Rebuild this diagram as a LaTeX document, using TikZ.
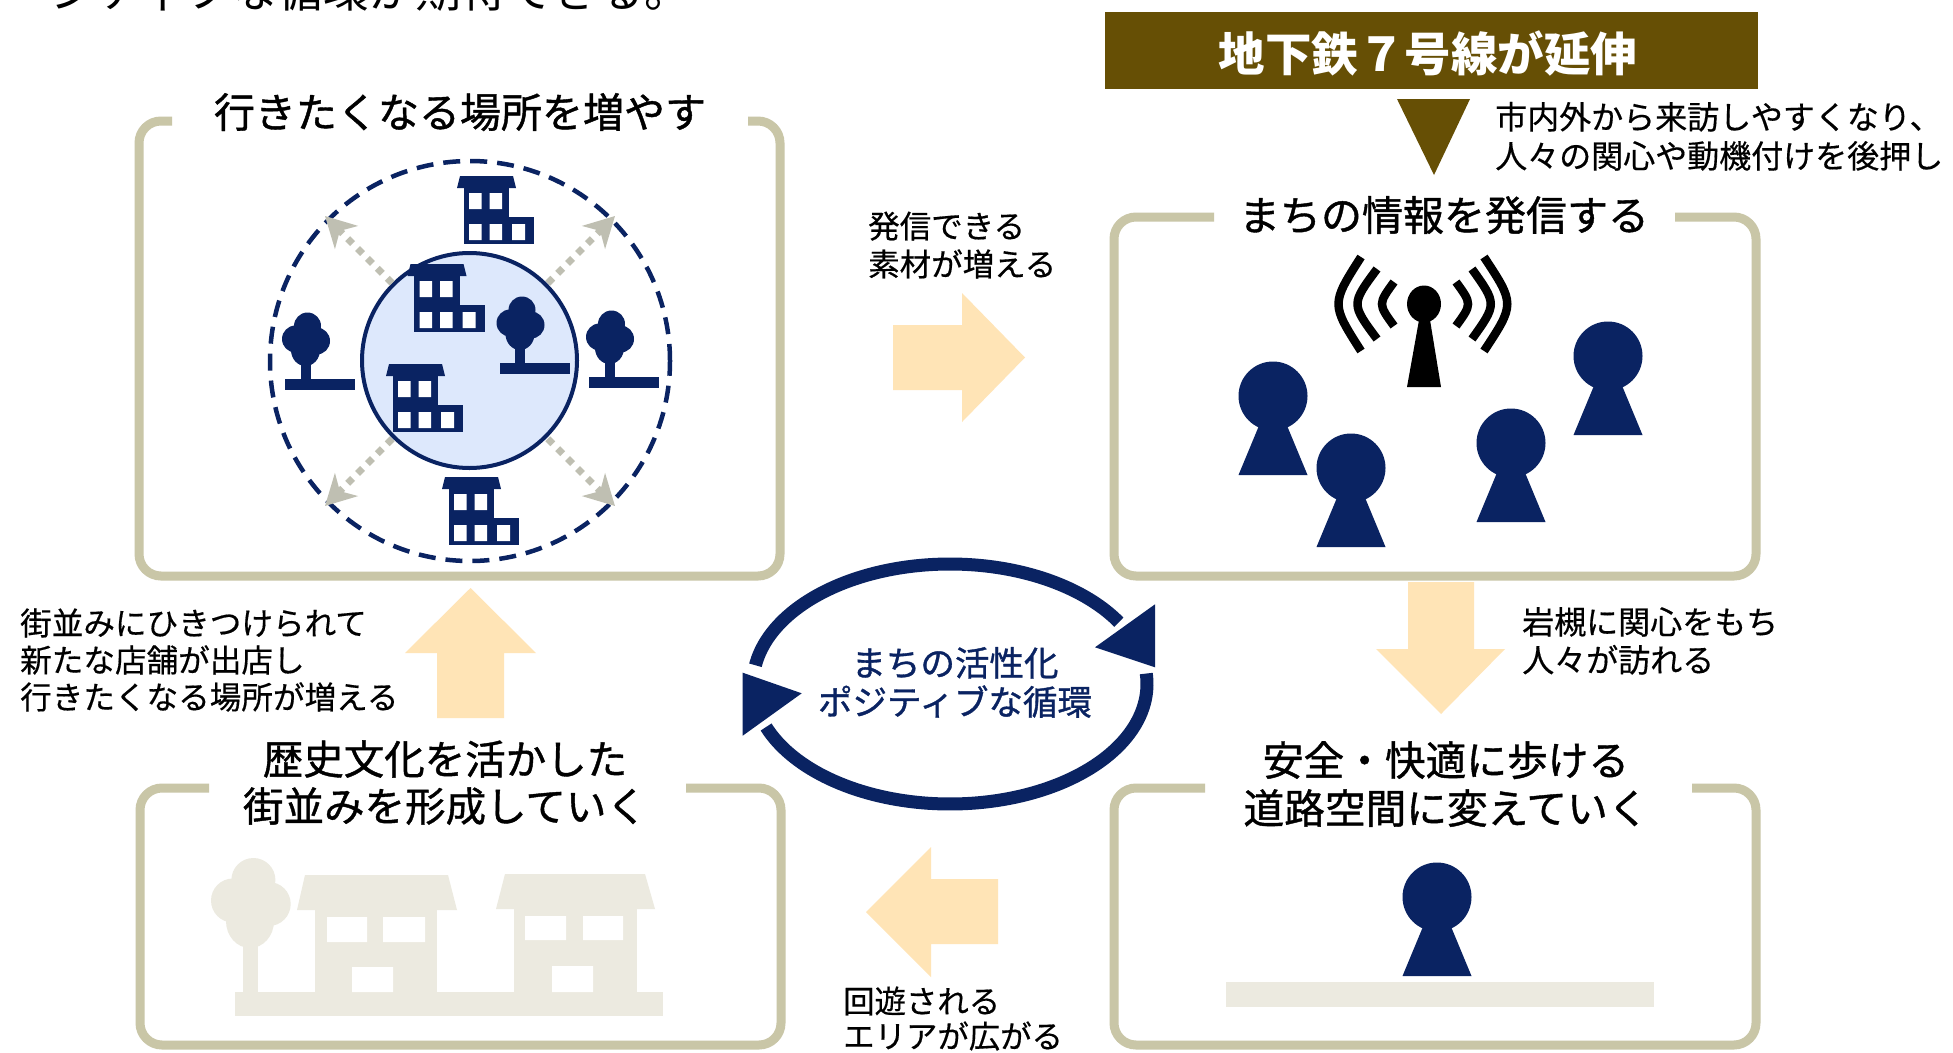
\documentclass[tikz,border=0pt]{standalone}
\usepackage{fontspec}
\setmainfont{Noto Sans CJK JP}
\newfontfamily\heavy[FakeBold=1.0]{Noto Sans CJK JP}
\newfontfamily\semi[FakeBold=0.45]{Noto Sans CJK JP}
\usetikzlibrary{arrows.meta}
\definecolor{navy}{HTML}{0A2362}
\definecolor{boxc}{HTML}{C9C6A7}
\definecolor{peach}{HTML}{FFE4B6}
\definecolor{grayc}{HTML}{BFBFB2}
\definecolor{lightblue}{HTML}{DDE8FC}
\definecolor{faded}{HTML}{ECEAE0}
\definecolor{brownc}{HTML}{664F05}
\newcommand\fsz[1]{\fontsize{#1}{#1}\selectfont}
\begin{document}
\begin{tikzpicture}[x=1pt,y=-1pt,
  boxline/.style={draw=boxc, line width=9pt, rounded corners=22pt},
  blockarrow/.style={fill=peach},
  grayarrow/.style={draw=grayc, line width=7pt, dash pattern=on 7pt off 7pt,
    -{Stealth[length=30pt,width=32pt,inset=9pt]}},
  lbl/.style={inner sep=0pt, anchor=base west, font=\semi},
  ttl/.style={inner sep=0pt, anchor=base, font=\heavy},
  bldg/.pic={
    \fill[navy] (3,0) -- (56,0) -- (59,12) -- (0,12) -- cycle;
    \fill[navy] (6.5,12) rectangle (52,68);
    \fill[navy] (52,41) rectangle (77,68);
    \fill[white] (12,17) rectangle (24.5,33) (32.5,17) rectangle (45,33)
      (12,48) rectangle (24.5,64) (32.5,48) rectangle (45,64) (55,48) rectangle (68,64);
  },
  tree/.pic={
    \fill[navy] (2,13) circle (13.5pt) (-10,26) circle (13.5pt) (11,28) circle (13.5pt)
      (0,37) ellipse (14.5pt and 16pt);
    \fill[navy] (-5,45) rectangle (5,66);
    \fill[navy] (-20.5,66) rectangle (49.5,76.5);
  },
  person/.pic={
    \fill[navy] (0,0) circle (34.5pt);
    \fill[navy] (-10,20) -- (10,20) -- (34.5,79) -- (-34.5,79) -- cycle;
  }]
\useasboundingbox (0,0) rectangle (1953,1052);
\fill[white] (0,0) rectangle (1953,1052);

% tail of the paragraph above the figure
\node[inner sep=0pt, anchor=base west] (lead) at (50,7) {\fsz{46}ジティブな循環が期待できる。};

% ---------- frames ----------
\draw[boxline] (172,121) -- (139,121) -- (139,576) -- (780,576) -- (780,121) -- (748,121);
\draw[boxline] (1214,217) -- (1114,217) -- (1114,576) -- (1756,576) -- (1756,217) -- (1675,217);
\draw[boxline] (209,788) -- (140,788) -- (140,1045) -- (781,1045) -- (781,788) -- (686,788);
\draw[boxline] (1205,788) -- (1114,788) -- (1114,1045) -- (1756,1045) -- (1756,788) -- (1692,788);

% ---------- titles ----------
\node[ttl] (t1) at (460,127.6) {\fsz{41}行きたくなる場所を増やす};
\node[ttl] (t2) at (1444,230.6) {\fsz{41}まちの情報を発信する};
\node[ttl] (t3a) at (445,774.4) {\fsz{40.5}歴史文化を活かした};
\node[ttl] (t3b) at (445,821.4) {\fsz{40.5}街並みを形成していく};
\node[ttl] (t4a) at (1446,775.5) {\fsz{40.7}安全・快適に歩ける};
\node[ttl] (t4b) at (1446,823.5) {\fsz{40.7}道路空間に変えていく};

% ---------- subway banner ----------
\fill[brownc] (1105,12) rectangle (1758,89);
\node[inner sep=0pt, anchor=base, text=white] (banner) at (1428,71.7) {\fsz{46.5}\bfseries 地下鉄７号線が延伸};
\fill[brownc] (1397,99) -- (1470,99) -- (1434,175) -- cycle;
\node[lbl] (sub1) at (1495,129) {\fsz{32}市内外から来訪しやすくなり、};
\node[lbl] (sub2) at (1495,168) {\fsz{32}人々の関心や動機付けを後押し};

% ---------- places to go ----------
\draw[navy, line width=4.5pt, dash pattern=on 17pt off 10pt] (470,361) circle (200pt);
\draw[navy, line width=4pt, fill=lightblue] (469.5,360.5) circle (107.5pt);
\draw[grayarrow] (392.2,283.2) -- (325,216);
\draw[grayarrow] (547.8,283.2) -- (615,216);
\draw[grayarrow] (392.2,438.8) -- (325,506);
\draw[grayarrow] (547.8,438.8) -- (615,506);
\pic at (457,176) {bldg};
\pic at (407.5,264) {bldg};
\pic at (386,364) {bldg};
\pic at (442,477) {bldg};
\pic at (305.5,313) {tree};
\pic at (520,297) {tree};
\pic at (609.5,311) {tree};

% ---------- broadcasting ----------
\fill[black] (1424,304) ellipse (17pt and 18.5pt);
\fill[black] (1419,320) -- (1430,320) -- (1441,387) -- (1407,387) -- cycle;
\begin{scope}[draw=black, line width=8.5pt]
  \draw (1394,282) .. controls (1378,304) .. (1394,326);
  \draw (1377,269) .. controls (1351,304) .. (1377,339);
  \draw (1361,257) .. controls (1331,304) .. (1361,351);
  \draw (1456,282) .. controls (1472,304) .. (1456,326);
  \draw (1472,269) .. controls (1497,304) .. (1472,339);
  \draw (1484,257) .. controls (1515,304) .. (1484,351);
\end{scope}
\pic at (1273,396) {person};
\pic at (1351,468) {person};
\pic at (1511,443) {person};
\pic at (1608,356) {person};

% ---------- walkable street ----------
\fill[faded] (1226,982) rectangle (1654,1007);
\pic at (1437,897) {person};

% ---------- historic streetscape ----------
\begin{scope}[fill=faded]
  \fill (253.4,880) circle (22pt) (233,900.5) circle (22pt) (268.7,904) circle (22pt)
    (250,921) ellipse (24pt and 27pt);
  \fill (243,940) rectangle (258,992);
  \fill (235,992) rectangle (663,1016);
  \fill (305,875) -- (448,875) -- (457,910) -- (297,910) -- cycle;
  \fill (315,909) rectangle (437,992);
  \fill (505,874) -- (645,874) -- (655,909) -- (496,909) -- cycle;
  \fill (514,908) rectangle (637,992);
\end{scope}
\fill[white] (327,917) rectangle (367,942) (383,917) rectangle (425,942) (352,967) rectangle (393,992);
\fill[white] (525,916) rectangle (566,940) (583,916) rectangle (623,940) (552,966) rectangle (593,992);

% ---------- flow arrows ----------
\fill[blockarrow] (893,325) -- (962,325) -- (962,293) -- (1025,357.5) -- (962,422) -- (962,390) -- (893,390) -- cycle;
\fill[blockarrow] (1408,582) -- (1474,582) -- (1474,649) -- (1505,649) -- (1441,714) -- (1376,649) -- (1408,649) -- cycle;
\fill[blockarrow] (998,879) -- (931,879) -- (931,847) -- (866,912) -- (931,977) -- (931,944) -- (998,944) -- cycle;
\fill[blockarrow] (437,718) -- (437,653) -- (405,653) -- (470.5,588) -- (536,653) -- (504,653) -- (504,718) -- cycle;

\node[lbl] (m1a) at (868,238) {\fsz{31.5}発信できる};
\node[lbl] (m1b) at (868,276) {\fsz{31.5}素材が増える};
\node[lbl] (m2a) at (1522,634) {\fsz{32}岩槻に関心をもち};
\node[lbl] (m2b) at (1522,672) {\fsz{32}人々が訪れる};
\node[lbl] (m3a) at (843,1013) {\fsz{31.4}回遊される};
\node[lbl] (m3b) at (843,1048) {\fsz{31.4}エリアが広がる};
\node[lbl] (m4a) at (20,635) {\fsz{31.6}街並みにひきつけられて};
\node[lbl] (m4b) at (20,672) {\fsz{31.6}新たな店舗が出店し};
\node[lbl] (m4c) at (20,709) {\fsz{31.6}行きたくなる場所が増える};

% ---------- central cycle ----------
\draw[navy, line width=13pt] plot[domain=31:171, samples=90] ({950+197*cos(\x)},{684-120*sin(\x)});
\draw[navy, line width=13pt] plot[domain=201:365, samples=90] ({950+197*cos(\x)},{684-120*sin(\x)});
\fill[navy] (1155,604.3) -- (1155,667.3) -- (1095,647.3) -- cycle;
\fill[navy] (742.7,672.7) -- (742.7,735.7) -- (801.7,693.3) -- cycle;
\node[ttl, text=navy] (c1) at (955,676) {\fsz{34.5}まちの活性化};
\node[ttl, text=navy] (c2) at (955,715) {\fsz{34.5}ポジティブな循環};
\end{tikzpicture}
\end{document}
